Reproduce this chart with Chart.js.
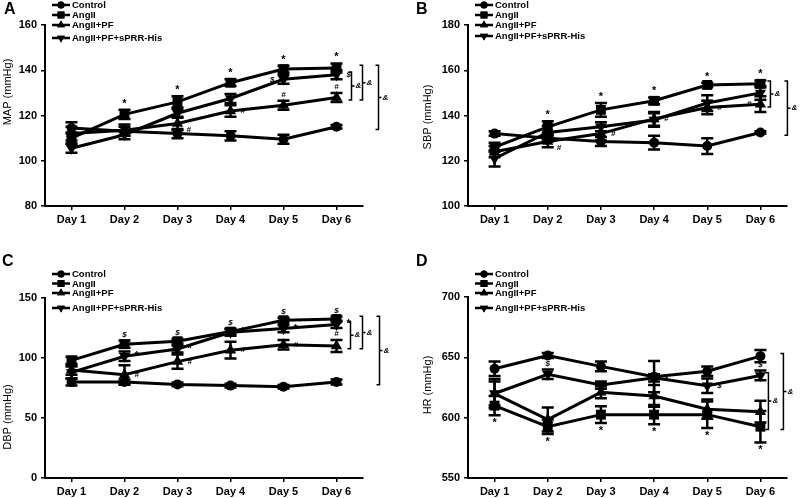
<!DOCTYPE html>
<html>
<head>
<meta charset="utf-8">
<script src="https://cdn.jsdelivr.net/npm/chart.js@4.4.1/dist/chart.umd.min.js"></script>
<style>
  body { margin: 0; background: #fff; width: 800px; height: 498px; position: relative; overflow: hidden; font-family: "Liberation Sans", Arial, sans-serif; }
  .panel { position: absolute; }
  .letter { position: absolute; font-weight: bold; font-size: 16px; line-height: 16px; }
</style>
</head>
<body>
<div class="panel" style="left:0;top:0"><canvas id="chartA" width="400" height="250"></canvas></div>
<div class="panel" style="left:400px;top:0"><canvas id="chartB" width="400" height="250"></canvas></div>
<div class="panel" style="left:0;top:250px"><canvas id="chartC" width="400" height="248"></canvas></div>
<div class="panel" style="left:400px;top:250px"><canvas id="chartD" width="400" height="248"></canvas></div>
<div class="letter" style="left:4px;top:1px">A</div>
<div class="letter" style="left:416px;top:1px">B</div>
<div class="letter" style="left:2px;top:253px">C</div>
<div class="letter" style="left:416px;top:253px">D</div>

<script>
// 공통 라벨
const days = ['Day 1', 'Day 2', 'Day 3', 'Day 4', 'Day 5', 'Day 6'];
const groups = ['Control', 'AngII', 'AngII+PF', 'AngII+PF+sPRR-His'];

// A: MAP
const mapControl = [114.5, 113, 112, 111, 109.5, 115];
const mapAngII = [110, 120.5, 126, 134.5, 140.5, 141];
const mapPF = [112, 113.5, 116.5, 122, 124.5, 128];
const mapSPRR = [105.5, 111.5, 121, 127.5, 136, 138];
const mapControlErr = [2.5, 2, 2, 2, 2, 0.8];
const mapAngIIErr = [2.5, 2, 2.5, 1.5, 1.5, 2];
const mapPFErr = [3, 2.5, 3, 2.5, 2, 2];
const mapSPRRErr = [2, 2, 2, 2, 2, 2];

// B: SBP
const sbpControl = [132, 130, 128.5, 128, 126.5, 132.5];
const sbpAngII = [126, 135, 142.5, 146.5, 153.5, 154];
const sbpPF = [124, 128.5, 132, 138.5, 143.5, 145];
const sbpSPRR = [121, 132.5, 135, 138, 145.5, 150];
const sbpControlErr = [1, 1.5, 2, 3, 3.5, 0.5];
const sbpAngIIErr = [2, 2.5, 3, 1.5, 1, 1.5];
const sbpPFErr = [2.5, 2.5, 3, 3, 3, 3.5];
const sbpSPRRErr = [3.5, 3, 2, 3, 3.5, 3];

// C: DBP
const dbpControl = [80, 80, 78, 77, 76, 80];
const dbpAngII = [98, 111.5, 114, 122, 131.5, 132.5];
const dbpPF = [90, 86, 97, 106.5, 111, 110];
const dbpSPRR = [88, 101.5, 107.5, 121.5, 124.5, 128];
const dbpControlErr = [3, 2, 1.5, 1.5, 1.5, 2];
const dbpAngIIErr = [3, 3, 2, 2, 2, 2];
const dbpPFErr = [4, 8, 6, 7, 4, 5];
const dbpSPRRErr = [5, 4, 3, 3, 3, 3];

// D: HR
const hrControl = [640.5, 651.5, 642.5, 634, 638.5, 651];
const hrAngII = [610, 592.5, 602.5, 602.5, 602.5, 592.5];
const hrPF = [620, 598.5, 621, 618, 607, 605];
const hrSPRR = [620, 636, 627, 633, 626.5, 635];
const hrControlErr = [6, 2, 4, 13, 4, 5];
const hrAngIIErr = [8, 6, 7, 8, 11, 13];
const hrPFErr = [10, 10, 5, 9, 8, 9];
const hrSPRRErr = [12, 4, 3, 3, 6, 4];

const FONT = '"Liberation Sans", Arial, sans-serif';
const markers = [
  { pointStyle: 'circle', radius: 5, rotation: 0 },
  { pointStyle: 'rect', radius: 7, rotation: 0 },
  { pointStyle: 'triangle', radius: 6.5, rotation: 0 },
  { pointStyle: 'triangle', radius: 6.5, rotation: 180 },
];

function makeDatasets(series, errs) {
  return series.map((data, i) => ({
    label: groups[i],
    data: data,
    errorBars: errs[i],
    borderColor: '#000',
    backgroundColor: '#000',
    borderWidth: 3,
    pointStyle: markers[i].pointStyle,
    pointRadius: markers[i].radius,
    pointRotation: markers[i].rotation,
    pointBorderWidth: 0,
    tension: 0,
  }));
}

// 에러바, 범례, 유의성 표시, 괄호를 그리는 플러그인
const figurePlugin = {
  id: 'figure',
  afterDatasetsDraw(chart, args, opts) {
    const ctx = chart.ctx;
    const xs = chart.scales.x, ys = chart.scales.y;
    const dsets = chart.data.datasets;
    ctx.save();
    ctx.strokeStyle = '#000';
    ctx.fillStyle = '#000';

    // 에러바
    ctx.lineWidth = 2.5;
    dsets.forEach(ds => {
      ds.data.forEach((v, i) => {
        const px = xs.getPixelForValue(i);
        const top = ys.getPixelForValue(v + ds.errorBars[i]);
        const bot = ys.getPixelForValue(v - ds.errorBars[i]);
        ctx.beginPath();
        ctx.moveTo(px, top); ctx.lineTo(px, bot);
        ctx.moveTo(px - 6, top); ctx.lineTo(px + 6, top);
        ctx.moveTo(px - 6, bot); ctx.lineTo(px + 6, bot);
        ctx.stroke();
      });
    });

    // 유의성 기호
    (opts.marks || []).forEach(([text, d, i, where]) => {
      const ds = dsets[d];
      const v = ds.data[i], e = ds.errorBars[i];
      const px = xs.getPixelForValue(i);
      const py = ys.getPixelForValue(v);
      ctx.font = text === '*' ? 'bold 11px ' + FONT : 'italic bold 8px ' + FONT;
      let tx = px, ty = py;
      ctx.textAlign = 'center';
      ctx.textBaseline = 'middle';
      if (where === 'above') { ty = ys.getPixelForValue(v + e) - 6; }
      else if (where === 'below') { ty = ys.getPixelForValue(v - e) + (text === '*' ? 8 : 6); }
      else if (where === 'right') { tx = px + 10; ctx.textAlign = 'left'; }
      else if (where === 'rightBelow') { tx = px + 9; ty = py + 6; ctx.textAlign = 'left'; }
      else if (where === 'left') { tx = px - 9; ctx.textAlign = 'right'; }
      ctx.fillText(text, tx, ty);
    });

    // 오른쪽 괄호 + &
    ctx.lineWidth = 1.5;
    const last = dsets[0].data.length - 1;
    (opts.brackets || []).forEach(([dTop, dBot, dx]) => {
      const x = xs.getPixelForValue(last) + dx;
      const y1 = ys.getPixelForValue(dsets[dTop].data[last] + 1.2 * (ys.max - ys.min) / 80);
      const y2 = ys.getPixelForValue(dsets[dBot].data[last] - 1.2 * (ys.max - ys.min) / 80);
      const mid = (y1 + y2) / 2;
      ctx.beginPath();
      ctx.moveTo(x - 3, y1); ctx.lineTo(x, y1); ctx.lineTo(x, y2); ctx.lineTo(x - 3, y2);
      ctx.moveTo(x, mid); ctx.lineTo(x + 3, mid);
      ctx.stroke();
      ctx.font = 'italic bold 8px ' + FONT;
      ctx.textAlign = 'left';
      ctx.textBaseline = 'middle';
      ctx.fillText('&', x + 4, mid);
    });

    // 범례
    const lg = opts.legend;
    if (lg) {
      ctx.font = 'bold 9.5px ' + FONT;
      ctx.textAlign = 'left';
      ctx.textBaseline = 'middle';
      dsets.forEach((ds, i) => {
        const y = lg.rows[i];
        ctx.lineWidth = 2.5;
        ctx.beginPath();
        ctx.moveTo(lg.x, y); ctx.lineTo(lg.x + 18, y);
        ctx.stroke();
        Chart.helpers.drawPoint(ctx, {
          pointStyle: markers[i].pointStyle,
          radius: markers[i].radius * 0.7,
          rotation: markers[i].rotation,
          borderWidth: 0,
        }, lg.x + 9, y);
        ctx.fill();
        ctx.fillText(ds.label, lg.x + 20, y + 0.5);
      });
    }

    // y축 제목
    const yt = opts.yTitle;
    if (yt) {
      ctx.translate(yt.x, yt.y);
      ctx.rotate(-Math.PI / 2);
      ctx.font = '11px ' + FONT;
      ctx.textAlign = 'center';
      ctx.textBaseline = 'middle';
      ctx.fillText(yt.text, 0, 0);
    }
    ctx.restore();
  }
};

function makeChart(id, series, errs, cfg) {
  return new Chart(document.getElementById(id), {
    type: 'line',
    data: { labels: days, datasets: makeDatasets(series, errs) },
    plugins: [figurePlugin],
    options: {
      responsive: false,
      animation: false,
      layout: { padding: { top: cfg.top, right: cfg.right, left: 0, bottom: 0 } },
      plugins: {
        legend: { display: false },
        tooltip: { enabled: false },
        figure: { legend: cfg.legend, yTitle: cfg.yTitle, marks: cfg.marks, brackets: cfg.brackets },
      },
      scales: {
        x: {
          offset: true,
          grid: { drawOnChartArea: false, drawTicks: true, tickLength: 4, color: '#000', lineWidth: 1.5, offset: false },
          border: { color: '#000', width: 2 },
          ticks: { color: '#000', font: { family: FONT, size: 11, weight: 'bold' }, padding: 3, autoSkip: false, maxRotation: 0 },
          afterFit(scale) { scale.height = cfg.xHeight; },
        },
        y: {
          min: cfg.min,
          max: cfg.max,
          grid: { drawOnChartArea: false, drawTicks: true, tickLength: 4, color: '#000', lineWidth: 1.5 },
          border: { color: '#000', width: 2 },
          ticks: { stepSize: cfg.step, color: '#000', font: { family: FONT, size: 11, weight: 'bold' }, padding: 4 },
          afterFit(scale) { scale.width = cfg.yWidth; },
        },
      },
    },
  });
}

const above = (d, list, t) => list.map(i => [t, d, i, 'above']);

makeChart('chartA',
  [mapControl, mapAngII, mapPF, mapSPRR],
  [mapControlErr, mapAngIIErr, mapPFErr, mapSPRRErr],
  {
    min: 80, max: 160, step: 20, top: 25, right: 37, yWidth: 45, xHeight: 44,
    legend: { x: 52, rows: [5, 15, 25, 38] },
    yTitle: { text: 'MAP (mmHg)', x: 8, y: 92 },
    marks: [
      ...above(1, [1, 2, 3, 4, 5], '*'),
      ['$', 3, 4, 'left'], ['$', 3, 5, 'right'],
      ['#', 2, 2, 'rightBelow'], ['#', 2, 3, 'right'], ['#', 2, 4, 'above'], ['#', 2, 5, 'above'],
    ],
    brackets: [[3, 2, 15], [1, 2, 26], [1, 0, 42]],
  });

makeChart('chartB',
  [sbpControl, sbpAngII, sbpPF, sbpSPRR],
  [sbpControlErr, sbpAngIIErr, sbpPFErr, sbpSPRRErr],
  {
    min: 100, max: 180, step: 20, top: 25, right: 13, yWidth: 68, xHeight: 44,
    legend: { x: 75, rows: [5, 15, 25, 36] },
    yTitle: { text: 'SBP (mmHg)', x: 28, y: 117 },
    marks: [
      ...above(1, [1, 2, 3, 4, 5], '*'),
      ['#', 2, 1, 'rightBelow'], ['#', 2, 2, 'right'], ['#', 2, 3, 'right'], ['#', 2, 4, 'right'], ['#', 2, 5, 'left'],
    ],
    brackets: [[1, 2, 10], [1, 0, 27]],
  });

makeChart('chartC',
  [dbpControl, dbpAngII, dbpPF, dbpSPRR],
  [dbpControlErr, dbpAngIIErr, dbpPFErr, dbpSPRRErr],
  {
    min: 0, max: 150, step: 50, top: 48, right: 37, yWidth: 45, xHeight: 20,
    legend: { x: 52, rows: [24, 33.5, 43, 58] },
    yTitle: { text: 'DBP (mmHg)', x: 8, y: 167 },
    marks: [
      ...above(1, [1, 2, 3, 4, 5], '$'),
      ['*', 3, 1, 'right'], ['*', 3, 2, 'right'], ['*', 3, 3, 'right'], ['*', 3, 4, 'right'], ['*', 3, 5, 'right'],
      ['#', 2, 1, 'right'], ['#', 2, 2, 'right'], ['#', 2, 3, 'right'], ['#', 2, 4, 'right'], ['#', 2, 5, 'above'],
    ],
    brackets: [[3, 2, 14], [1, 2, 26], [1, 0, 43]],
  });

makeChart('chartD',
  [hrControl, hrAngII, hrPF, hrSPRR],
  [hrControlErr, hrAngIIErr, hrPFErr, hrSPRRErr],
  {
    min: 550, max: 700, step: 50, top: 47, right: 13, yWidth: 68, xHeight: 20,
    legend: { x: 75, rows: [24, 33.5, 43, 58] },
    yTitle: { text: 'HR (mmHg)', x: 28, y: 135 },
    marks: [
      ['*', 1, 0, 'below'], ['*', 1, 1, 'below'], ['*', 1, 2, 'below'],
      ['*', 1, 3, 'below'], ['*', 1, 4, 'below'], ['*', 1, 5, 'below'],
      ['$', 0, 1, 'below'], ['$', 3, 3, 'right'], ['$', 3, 4, 'right'], ['$', 3, 5, 'above'],
    ],
    brackets: [[3, 1, 8], [0, 1, 23]],
  });
</script>
</body>
</html>
